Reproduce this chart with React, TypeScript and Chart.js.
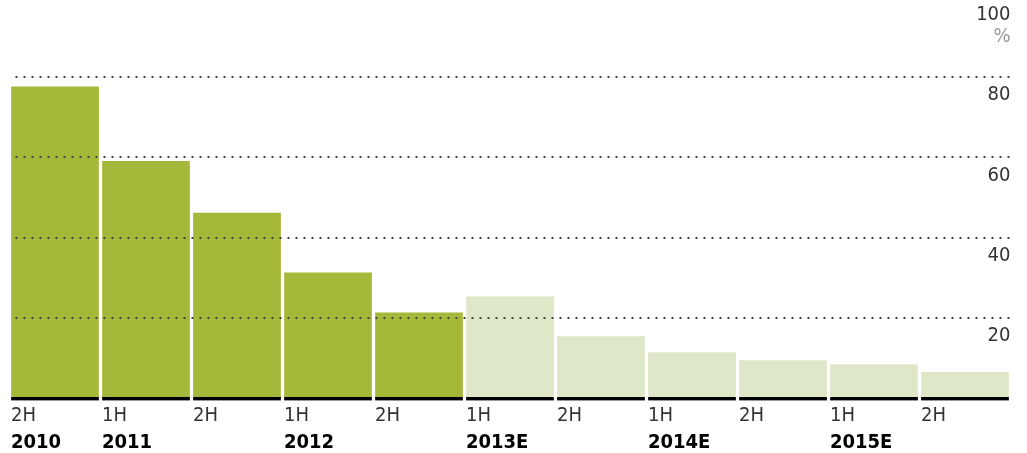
import React, { useEffect, useRef } from "react";
import { Chart, registerables } from "chart.js";

Chart.register(...registerables);

const halfLabels = ["2H", "1H", "2H", "1H", "2H", "1H", "2H", "1H", "2H", "1H", "2H"];
const yearLabels = ["2010", "2011", "", "2012", "", "2013E", "", "2014E", "", "2015E", ""];
const values = [77.7, 59.1, 46.2, 31.3, 21.3, 25.3, 15.4, 11.4, 9.4, 8.4, 6.5];
const isEstimate = [false, false, false, false, false, true, true, true, true, true, true];
const yTickValues = [0, 20, 40, 60, 80, 100];
const unitLabel = "%";

const FONT = "'Liberation Sans Narrow', 'DejaVu Sans Condensed', 'Liberation Sans', sans-serif";
const ACTUAL = "#a5b839";
const ESTIMATE = "#dfe7c9";

const unitPlugin = {
  id: "unitLabel",
  afterDatasetsDraw(chart: any) {
    // black base rule under each bar, just below zero
    const ctx = chart.ctx;
    const meta = chart.getDatasetMeta(0);
    ctx.save();
    ctx.fillStyle = "#000";
    meta.data.forEach((bar: any) => {
      const w = bar.width;
      ctx.fillRect(bar.x - w / 2, bar.base, w, 3.4);
    });
    ctx.restore();
  },
  afterDraw(chart: any) {
    const y = chart.scales.y;
    const ctx = chart.ctx;
    ctx.save();
    ctx.font = `20px ${FONT}`;
    ctx.fillStyle = "#999";
    ctx.textAlign = "right";
    ctx.textBaseline = "middle";
    ctx.fillText(unitLabel, chart.chartArea.right, y.getPixelForValue(100) + 40);
    ctx.restore();
  },
};

export default function App() {
  const ref = useRef<HTMLCanvasElement | null>(null);
  useEffect(() => {
    if (!ref.current) return;
    const chart = new Chart(ref.current, {
      type: "bar",
      data: {
        labels: halfLabels,
        datasets: [
          {
            data: values,
            backgroundColor: isEstimate.map((e) => (e ? ESTIMATE : ACTUAL)),
            borderWidth: 0,
            inflateAmount: 0,
            barPercentage: 0.964,
            categoryPercentage: 1,
            xAxisID: "x",
          },
        ],
      },
      options: {
        animation: false,
        responsive: true,
        maintainAspectRatio: false,
        layout: { padding: { left: 9.5, right: 16.5, top: 0, bottom: 0 } },
        plugins: { legend: { display: false }, tooltip: { enabled: false } },
        scales: {
          x: {
            type: "category",
            position: "bottom",
            offset: true,
            grid: { display: false, drawTicks: false },
            border: { display: false },
            ticks: {
              align: "start",
              labelOffset: -44,
              padding: 6,
              maxRotation: 0,
              autoSkip: false,
              color: "#333",
              font: { family: FONT, size: 20 },
            },
          },
          x2: {
            type: "category",
            position: "bottom",
            labels: yearLabels,
            offset: true,
            grid: { display: false, drawTicks: false },
            border: { display: false },
            ticks: {
              align: "start",
              labelOffset: -44,
              padding: 0,
              maxRotation: 0,
              autoSkip: false,
              color: "#000",
              font: { family: FONT, size: 20, weight: "bold", lineHeight: 0.9 },
            },
          },
          y: {
            position: "right",
            min: 0,
            max: 100,
            afterBuildTicks: (scale: any) => {
              scale.ticks = yTickValues.map((v) => ({ value: v }));
            },
            grid: {
              drawTicks: false,
              z: 1,
              lineWidth: 2,
              color: (ctx: any) => (ctx.tick && ctx.tick.value === 0 ? "rgba(0,0,0,0)" : "#444"),
            },
            border: { display: false, dash: [2, 6], dashOffset: 2 },
            ticks: {
              mirror: true,
              padding: 0,
              labelOffset: 18,
              color: "#333",
              font: { family: FONT, size: 20 },
              callback: (v: any) => (v === 0 ? "" : String(v)),
            },
          },
        },
      },
      plugins: [unitPlugin],
    });
    return () => chart.destroy();
  }, []);
  return (
    <div style={{ position: "absolute", left: 0, top: -15, width: 1027, height: 467 }}>
      <canvas ref={ref} />
    </div>
  );
}
